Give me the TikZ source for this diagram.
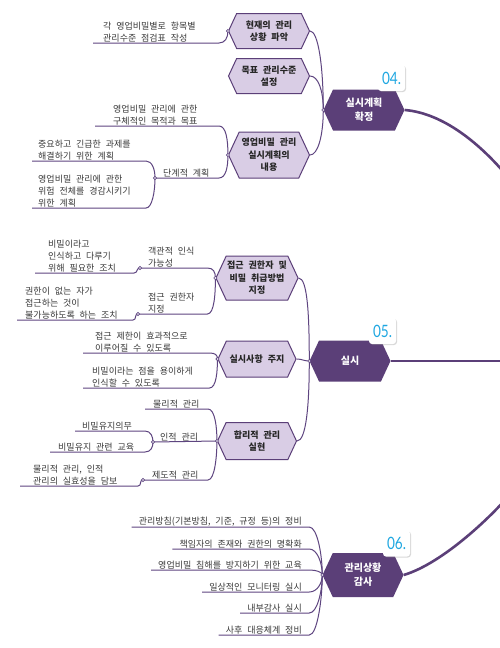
\documentclass[tikz,border=0pt]{standalone}
\usepackage{fontspec}
\newfontfamily\kr[WordSpace=2.4]{Noto Sans CJK KR}
\newfontfamily\numf{Lato}
\usetikzlibrary{shapes.symbols,shadows}
\definecolor{hubc}{HTML}{5B3F78}
\definecolor{subc}{HTML}{D9CDE5}
\definecolor{linec}{HTML}{5E4580}
\definecolor{txt}{HTML}{3A3A3A}
\definecolor{badgec}{HTML}{1EA7E1}
\tikzset{
 hub/.style={signal, signal to=east and west, signal pointer angle=130, fill=hubc, text=white,
   font=\kr\bfseries\fontsize{10}{14}\selectfont, align=center, minimum width=81pt, minimum height=41pt, inner sep=1pt},
 sub/.style={signal, signal to=east and west, signal pointer angle=130, fill=subc, draw=hubc, line width=1pt,
   text=black!85, font=\kr\bfseries\fontsize{9}{12.5}\selectfont, align=center, minimum width=81pt, inner sep=1pt},
 leaf/.style={font=\kr\fontsize{9}{11.8}\selectfont, text=txt, align=left, inner xsep=0pt, inner ysep=1pt, anchor=south west},
 leafr/.style={leaf, align=right, anchor=south east},
 conn/.style={draw=linec, line width=1pt},
 spine/.style={draw=hubc, line width=2.6pt},
 knot/.style={draw=linec, fill=white, line width=0.6pt},
 badge/.style={fill=white, rounded corners=3pt, minimum width=27pt, minimum height=26pt, inner sep=0pt,
   drop shadow={shadow xshift=1pt, shadow yshift=-1pt, opacity=0.3}, text=badgec,
   font=\numf\fontsize{17}{17}\selectfont}
}
\begin{document}
\begin{tikzpicture}[x=1pt,y=-1pt]
\useasboundingbox (0,0) rectangle (500,648);
\clip (0,0) rectangle (500,648);
\fill[white] (0,0) rectangle (500,648);

% hubs
\node[hub] (h1) at (364,110) {실시계획\\확정};
\node[hub] (h2) at (350,361) {실시};
\node[hub, minimum height=44pt] (h3) at (363,575) {관리상황\\감사};

% sub nodes
\node[sub, minimum height=35pt] (c1) at (269,31) {현재의 관리\\상황 파악};
\node[sub, minimum height=35pt] (c2) at (269,76) {목표 관리수준\\설정};
\node[sub, minimum height=46pt] (c3) at (269,155) {영업비밀 관리\\실시계획의\\내용};
\node[sub, minimum width=78pt, minimum height=44pt] (d1) at (257,278) {접근 권한자 및\\비밀 취급방법\\지정};
\node[sub, minimum width=78pt, minimum height=36pt] (d2) at (257,359) {실시사항 주지};
\node[sub, minimum width=79pt, minimum height=37pt] (d3) at (257,441) {합리적 관리\\실현};

% coordinates for spine ends
\coordinate (sp1) at (512,182);
\coordinate (sp2) at (512,361);
\coordinate (sp3) at (512,492);

% spine
\draw[spine] (h1.east) .. controls +(37,3) and +(-32,-40) .. (sp1);
\draw[spine] (h2.east) -- (sp2);
\draw[spine] (h3.east) .. controls +(40,-12) and +(-18,22) .. (sp3);

% hub to sub connectors
\draw[conn] (c1.east) .. controls +(8,0) and +(0,-45) .. (h1.west);
\draw[conn] (c2.east) .. controls +(8,0) and +(0,-20) .. (h1.west);
\draw[conn] (c3.east) .. controls +(8,0) and +(0,25) .. (h1.west);
\draw[conn] (d1.east) .. controls +(9,0) and +(0,-45) .. (h2.west);
\draw[conn] (d2.east) .. controls +(6,0) and +(-6,0) .. (h2.west);
\draw[conn] (d3.east) .. controls +(9,0) and +(0,45) .. (h2.west);

% group 1 leaves
\node[leaf] (L1) at (103,43) {각 영업비밀별로 항목별\\관리수준 점검표 작성};
\node[leaf] (L2) at (113,126) {영업비밀 관리에 관한\\구체적인 목적과 목표};
\node[leaf] (L3) at (163,178) {단계적 계획};
\node[leaf] (L3a) at (38,161) {중요하고 긴급한 과제를\\해결하기 위한 계획};
\node[leaf] (L3b) at (38,208) {영업비밀 관리에 관한\\위험 전체를 경감시키기\\위한 계획};

\draw[conn] ([xshift=-10pt]L1.south west) -- ([xshift=-9pt]c1.west |- L1.south) .. controls +(6,0) and +(0,7) .. (c1.west);
\draw[conn] ([xshift=-18pt]L2.south west) -- ([xshift=-9pt]c3.west |- L2.south) .. controls +(7,0) and +(0,-16) .. (c3.west);
\draw[conn] ([xshift=-8pt]L3.south west) -- ([xshift=-9pt]c3.west |- L3.south) .. controls +(7,0) and +(0,12) .. (c3.west);
\draw[conn] ([xshift=-6pt]L3a.south west) -- ([xshift=-17pt]L3.south west |- L3a.south) .. controls +(6,0) and +(0,-9) .. ([xshift=-8pt]L3.south west);
\draw[conn] ([xshift=-6pt]L3b.south west) -- ([xshift=-17pt]L3.south west |- L3b.south) .. controls +(6,0) and +(0,14) .. ([xshift=-8pt]L3.south west);

% group 2 leaves
\node[leaf] (M1) at (148,268) {객관적 인식\\가능성};
\node[leaf] (M1a) at (48,273) {비밀이라고\\인식하고 다루기\\위해 필요한 조치};
\node[leaf] (M2) at (148,314) {접근 권한자\\지정};
\node[leaf] (M2a) at (25,320) {권한이 없는 자가\\접근하는 것이\\불가능하도록 하는 조치};
\node[leaf] (N1) at (95,353) {접근 제한이 효과적으로\\이루어질 수 있도록};
\node[leaf] (N2) at (92,388) {비밀이라는 점을 용이하게\\인식할 수 있도록};
\node[leaf] (P1) at (153,409) {물리적 관리};
\node[leaf] (P2) at (160,442) {인적 관리};
\node[leaf] (P2a) at (82,431) {비밀유지의무};
\node[leaf] (P2b) at (58,452) {비밀유지 관련 교육};
\node[leaf] (P3) at (152,480) {제도적 관리};
\node[leaf] (P3a) at (33,486) {물리적 관리, 인적\\관리의 실효성을 담보};

\draw[conn] ([xshift=-8pt]M1.south west) -- ([xshift=-8pt]d1.west |- M1.south) .. controls +(6,0) and +(0,-6) .. (d1.west);
\draw[conn] ([xshift=-13pt]M1a.south west) -- ([xshift=-14pt]M1.south west |- M1a.south) .. controls +(4,0) and +(-4,0) .. ([xshift=-8pt]M1.south west);
\draw[conn] ([xshift=-10pt]M2.south west) -- ([xshift=-8pt]d1.west |- M2.south) .. controls +(7,0) and +(0,15) .. (d1.west);
\draw[conn] ([xshift=-8pt]M2a.south west) -- ([xshift=-15pt]M2.south west |- M2a.south) .. controls +(4,0) and +(-4,0) .. ([xshift=-10pt]M2.south west);
\draw[conn] ([xshift=-12pt]N1.south west) -- ([xshift=-8pt]d2.west |- N1.south) .. controls +(6,0) and +(0,-4) .. (d2.west);
\draw[conn] ([xshift=-9pt]N2.south west) -- ([xshift=-8pt]d2.west |- N2.south) .. controls +(7,0) and +(0,12) .. (d2.west);
\draw[conn] ([xshift=-8pt]P1.south west) -- ([xshift=-9pt]d3.west |- P1.south) .. controls +(7,0) and +(0,-14) .. (d3.west);
\draw[conn] ([xshift=-7pt]P2.south west) -- (d3.west);
\draw[conn] ([xshift=-7pt]P2a.south west) -- ([xshift=-15pt]P2.south west |- P2a.south) .. controls +(6,0) and +(0,-5) .. ([xshift=-7pt]P2.south west);
\draw[conn] ([xshift=-8pt]P2b.south west) -- ([xshift=-15pt]P2.south west |- P2b.south) .. controls +(6,0) and +(0,5) .. ([xshift=-7pt]P2.south west);
\draw[conn] ([xshift=-9pt]P3.south west) -- ([xshift=-9pt]d3.west |- P3.south) .. controls +(7,0) and +(0,14) .. (d3.west);
\draw[conn] ([xshift=-13pt]P3a.south west) -- ([xshift=-14pt]P3.south west |- P3a.south) .. controls +(4,0) and +(-4,0) .. ([xshift=-9pt]P3.south west);

% group 3 leaves
\node[leafr] (Q1) at (302,527) {관리방침(기본방침, 기준, 규정 등)의 정비};
\node[leafr] (Q2) at (302,549) {책임자의 존재와 권한의 명확화};
\node[leafr] (Q3) at (302,570) {영업비밀 침해를 방지하기 위한 교육};
\node[leafr] (Q4) at (302,592) {일상적인 모니터링 실시};
\node[leafr] (Q5) at (302,613) {내부감사 실시};
\node[leafr] (Q6) at (302,635) {사후 대응체계 정비};

\draw[conn] ([xshift=-7pt]Q1.south west) -- ([xshift=-13pt]h3.west |- Q1.south) .. controls +(8,0) and +(0,-20) .. (h3.west);
\draw[conn] ([xshift=-7pt]Q2.south west) -- ([xshift=-13pt]h3.west |- Q2.south) .. controls +(8,0) and +(0,-12) .. (h3.west);
\draw[conn] ([xshift=-7pt]Q3.south west) -- ([xshift=-13pt]h3.west |- Q3.south) .. controls +(7,0) and +(0,-3) .. (h3.west);
\draw[conn] ([xshift=-7pt]Q4.south west) -- ([xshift=-13pt]h3.west |- Q4.south) .. controls +(8,0) and +(0,8) .. (h3.west);
\draw[conn] ([xshift=-7pt]Q5.south west) -- ([xshift=-13pt]h3.west |- Q5.south) .. controls +(8,0) and +(0,16) .. (h3.west);
\draw[conn] ([xshift=-7pt]Q6.south west) -- ([xshift=-13pt]h3.west |- Q6.south) .. controls +(8,0) and +(0,24) .. (h3.west);

% junction knots
\foreach \k in {c1.west, c3.west, h1.west, h2.west, h3.west, d1.west, d2.west, d3.west}
  \draw[knot] (\k) circle (1.6);
\draw[knot] ([xshift=-8pt]L3.south west) circle (1.6);
\draw[knot] ([xshift=-8pt]M1.south west) circle (1.6);
\draw[knot] ([xshift=-10pt]M2.south west) circle (1.6);
\draw[knot] ([xshift=-7pt]P2.south west) circle (1.6);
\draw[knot] ([xshift=-9pt]P3.south west) circle (1.6);

% badges
\node[badge] (b4) at (391.5,78) {\scalebox{0.8}[1]{04.}};
\node[badge] (b5) at (382.5,331) {\scalebox{0.8}[1]{05.}};
\node[badge] (b6) at (396.5,543.5) {\scalebox{0.8}[1]{06.}};
\end{tikzpicture}
\end{document}
